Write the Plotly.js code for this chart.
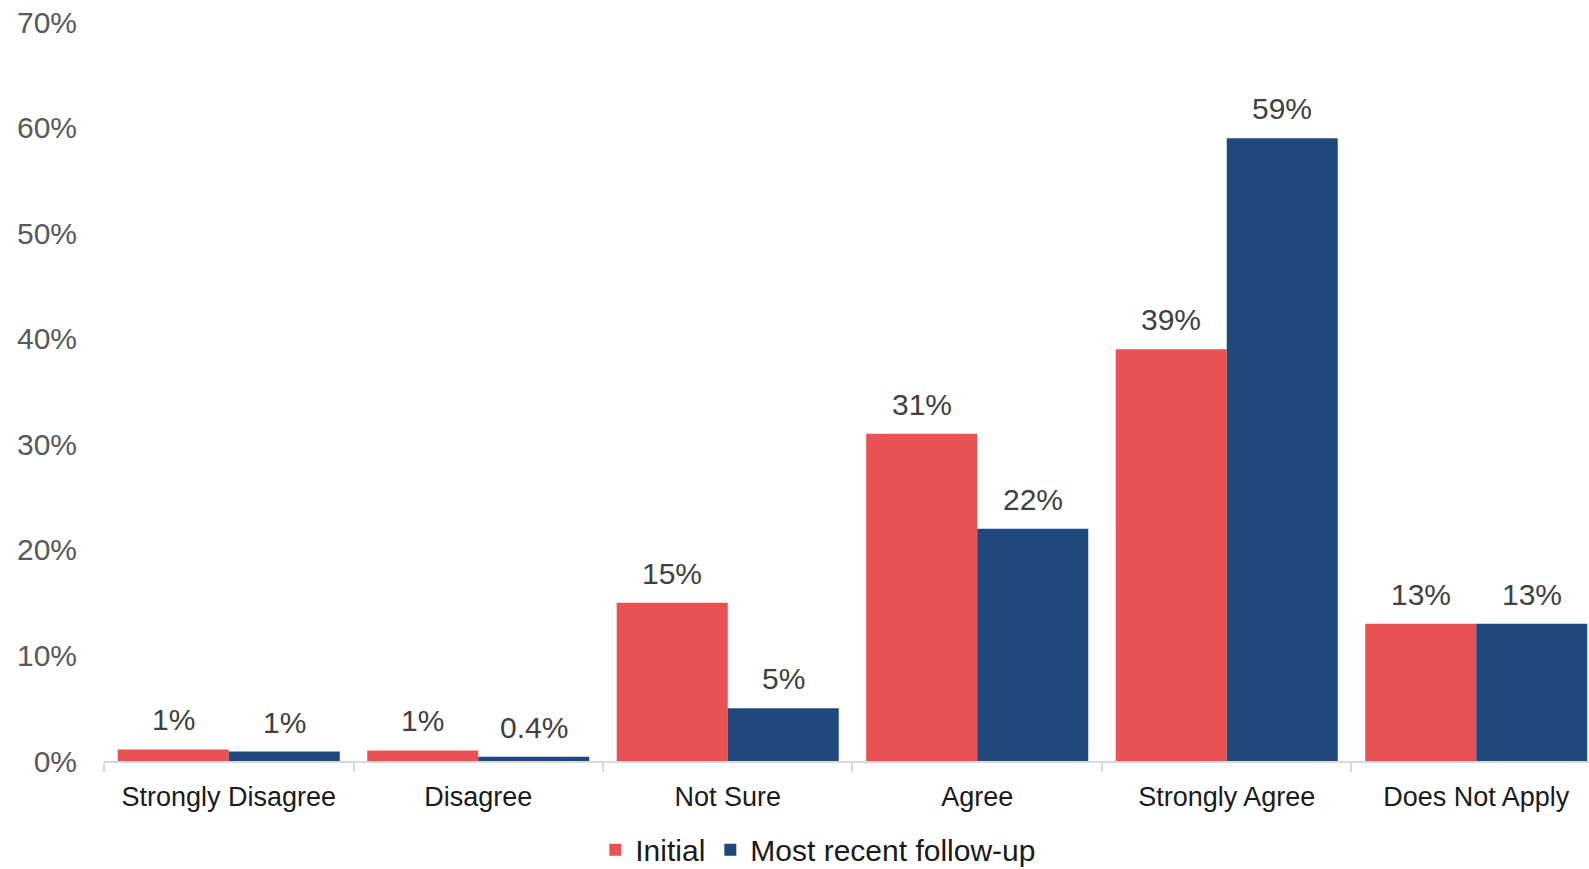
<!DOCTYPE html>
<html>
<head>
<meta charset="utf-8">
<script src="https://cdn.plot.ly/plotly-3.0.1.min.js"></script>
<style>
html,body{margin:0;padding:0;background:#fff;overflow:hidden;}
#chart{width:1589px;height:869px;}
</style>
</head>
<body>
<div id="chart"></div>
<script>
const categories = ["Strongly Disagree", "Disagree", "Not Sure", "Agree", "Strongly Agree", "Does Not Apply"];
const initialValues = [1.1, 1.0, 15, 31, 39, 13];
const followupValues = [0.9, 0.4, 5, 22, 59, 13];
const initialLabels = ["1%", "1%", "15%", "31%", "39%", "13%"];
const followupLabels = ["1%", "0.4%", "5%", "22%", "59%", "13%"];
const yTickVals = [0, 10, 20, 30, 40, 50, 60, 70];
const yTickText = ["0%", "10%", "20%", "30%", "40%", "50%", "60%", "70%"];

const FONT = "Liberation Sans, Arial, sans-serif";
const RED = "#EA5153";
const BLUE = "#1F497D";

const traces = [
  {type: "bar", name: "Initial", x: categories, y: initialValues,
   marker: {color: RED}, hoverinfo: "skip"},
  {type: "bar", name: "Most recent follow-up", x: categories, y: followupValues,
   marker: {color: BLUE}, hoverinfo: "skip"}
];

const annotations = [];
categories.forEach((c, i) => {
  annotations.push({x: c, y: initialValues[i], xref: "x", yref: "y", text: initialLabels[i],
    showarrow: false, yanchor: "bottom", xanchor: "center", xshift: -55.5, yshift: 11,
    font: {family: FONT, size: 30, color: "#404040"}});
  annotations.push({x: c, y: followupValues[i], xref: "x", yref: "y", text: followupLabels[i],
    showarrow: false, yanchor: "bottom", xanchor: "center", xshift: 55.5, yshift: 11,
    font: {family: FONT, size: 30, color: "#404040"}});
});

const layout = {
  width: 1589, height: 869,
  margin: {l: 104, r: 0, t: 22, b: 108, pad: 0, autoexpand: false},
  paper_bgcolor: "#fff", plot_bgcolor: "#fff",
  barmode: "group", bargap: 0.11, bargroupgap: 0,
  font: {family: FONT},
  xaxis: {
    type: "category", range: [-0.5, 5.452], automargin: false,
    showline: true, linecolor: "#d9d9d9", linewidth: 2,
    ticks: "outside", tickson: "boundaries", ticklen: 9, tickwidth: 2, tickcolor: "#d9d9d9",
    tickfont: {family: FONT, size: 27, color: "#1a1a1a"},
    ticklabelstandoff: 11,
    showgrid: false, zeroline: false, fixedrange: true
  },
  yaxis: {
    range: [0, 70], tickvals: yTickVals, ticktext: yTickText, automargin: false,
    showgrid: false, zeroline: false, showline: false, ticks: "",
    tickfont: {family: FONT, size: 30, color: "#595959"},
    ticklabelstandoff: 26, fixedrange: true
  },
  showlegend: true,
  legend: {
    orientation: "h", x: 0.481, xanchor: "center", y: -0.12, yanchor: "middle",
    font: {family: FONT, size: 30, color: "#1a1a1a"},
    bgcolor: "rgba(0,0,0,0)", itemclick: false, itemdoubleclick: false
  },
  annotations: annotations
};

Plotly.newPlot("chart", traces, layout, {displayModeBar: false, staticPlot: true});
</script>
</body>
</html>
